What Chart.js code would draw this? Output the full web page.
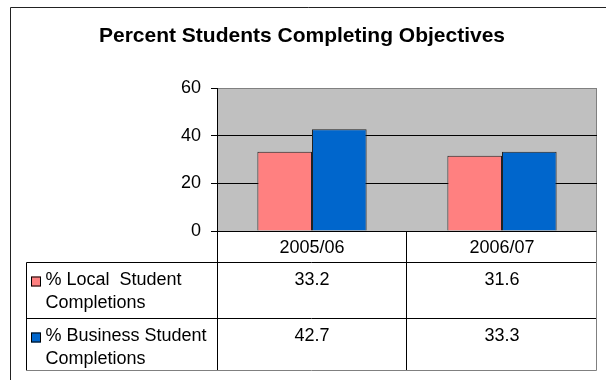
<!DOCTYPE html>
<html>
<head>
<meta charset="utf-8">
<title>Percent Students Completing Objectives</title>
<script src="https://cdn.jsdelivr.net/npm/chart.js@4/dist/chart.umd.min.js"></script>
<style>
  html, body { margin: 0; padding: 0; background: #ffffff; }
  #wrap { width: 606px; height: 380px; }
</style>
</head>
<body>
<div id="wrap">
  <canvas id="completionChart" width="606" height="380"></canvas>
</div>
<script>
// Chart data
const chartTitle = "Percent Students Completing Objectives";
const years = ["2005/06", "2006/07"];
const localCompletions = [33.2, 31.6];
const businessCompletions = [42.7, 33.3];
const seriesNames = [
  ["% Local  Student", "Completions"],
  ["% Business Student", "Completions"],
];
const yTicks = [0, 20, 40, 60];

const FONT = '"Liberation Sans", Arial, Helvetica, sans-serif';
const PINK = "#ff8080";
const BLUE = "#0066cc";

// Paint the white page, the outer frame and the grey plot area
const backgroundPlugin = {
  id: "background",
  beforeDraw(chart) {
    const ctx = chart.ctx;
    const area = chart.chartArea;
    ctx.save();
    ctx.fillStyle = "#ffffff";
    ctx.fillRect(0, 0, chart.width, chart.height);

    // outer frame, cut off at the right and bottom
    ctx.strokeStyle = "#222222";
    ctx.lineWidth = 1;
    ctx.beginPath();
    ctx.moveTo(10.5, chart.height);
    ctx.lineTo(10.5, 7.5);
    ctx.lineTo(chart.width, 7.5);
    ctx.stroke();

    ctx.fillStyle = "#c0c0c0";
    ctx.fillRect(area.left, area.top, area.right - area.left, area.bottom - area.top);

    // grey border on the right of the plot
    ctx.strokeStyle = "#808080";
    ctx.beginPath();
    ctx.moveTo(Math.round(area.right) - 0.5, area.top);
    ctx.lineTo(Math.round(area.right) - 0.5, area.bottom);
    ctx.stroke();
    ctx.restore();
  },
};

// Draw the data table under the plot, using the x scale for the columns
const dataTablePlugin = {
  id: "dataTable",
  afterDraw(chart) {
    const ctx = chart.ctx;
    const area = chart.chartArea;
    const xScale = chart.scales.x;
    const colWidth = (area.right - area.left) / years.length;
    const tableLeft = 26.5;
    const headerTop = Math.round(area.bottom) + 0.5;
    const headerBottom = headerTop + 31;
    const rowHeights = [56, 52];
    const rowTops = [headerBottom, headerBottom + rowHeights[0]];
    const tableBottom = rowTops[1] + rowHeights[1];
    const colEdges = [];
    for (let i = 0; i <= years.length; i++) {
      colEdges.push(Math.round(area.left + i * colWidth) - 0.5);
    }
    colEdges[0] = Math.round(area.left) + 0.5;

    ctx.save();
    ctx.lineWidth = 1;
    ctx.strokeStyle = "#000000";
    ctx.beginPath();
    // header column dividers
    colEdges.slice(0, -1).forEach((x) => {
      ctx.moveTo(x, headerTop);
      ctx.lineTo(x, tableBottom);
    });
    // row lines
    ctx.moveTo(tableLeft, headerBottom);
    ctx.lineTo(colEdges[colEdges.length - 1], headerBottom);
    ctx.moveTo(tableLeft, rowTops[1]);
    ctx.lineTo(colEdges[colEdges.length - 1], rowTops[1]);
    ctx.moveTo(tableLeft, headerBottom);
    ctx.lineTo(tableLeft, tableBottom);
    ctx.stroke();

    // outer right and bottom edges are grey
    ctx.strokeStyle = "#808080";
    ctx.beginPath();
    const right = colEdges[colEdges.length - 1];
    ctx.moveTo(right, headerTop);
    ctx.lineTo(right, tableBottom);
    ctx.moveTo(tableLeft, tableBottom);
    ctx.lineTo(right, tableBottom);
    ctx.stroke();

    ctx.font = "18px " + FONT;
    ctx.fillStyle = "#000000";
    ctx.textBaseline = "middle";

    // category labels in the header row
    ctx.textAlign = "center";
    years.forEach((year, i) => {
      ctx.fillText(year, xScale.getPixelForValue(i), (headerTop + headerBottom) / 2 + 1);
    });

    // series rows: legend key, name and values
    chart.data.datasets.forEach((dataset, r) => {
      const top = rowTops[r];
      ctx.fillStyle = dataset.backgroundColor;
      ctx.fillRect(31, top + 14, 10, 10);
      ctx.strokeStyle = "#000000";
      ctx.strokeRect(31.5, top + 14.5, 9, 9);

      ctx.fillStyle = "#000000";
      ctx.textAlign = "left";
      ctx.fillText(seriesNames[r][0], 45.5, top + 18);
      ctx.fillText(seriesNames[r][1], 45.5, top + 41);

      ctx.textAlign = "center";
      dataset.data.forEach((value, i) => {
        ctx.fillText(value.toFixed(1), xScale.getPixelForValue(i), top + 18);
      });
    });
    ctx.restore();
  },
};

const completionChart = new Chart(document.getElementById("completionChart"), {
  type: "bar",
  data: {
    labels: years,
    datasets: [
      {
        label: seriesNames[0].join(" "),
        data: localCompletions,
        backgroundColor: PINK,
        borderColor: "#222222",
        borderWidth: 1,
        categoryPercentage: 0.575,
        barPercentage: 1.0,
      },
      {
        label: seriesNames[1].join(" "),
        data: businessCompletions,
        backgroundColor: BLUE,
        borderColor: "#222222",
        borderWidth: 1,
        categoryPercentage: 0.575,
        barPercentage: 1.0,
      },
    ],
  },
  options: {
    responsive: false,
    animation: false,
    events: [],
    layout: {
      padding: { left: 7, right: 9, top: 0, bottom: 149 },
    },
    plugins: {
      legend: { display: false },
      tooltip: { enabled: false },
      title: {
        display: true,
        text: chartTitle,
        color: "#000000",
        font: { family: FONT, size: 21, weight: "bold", lineHeight: 1.2 },
        padding: { top: 24, bottom: 38.8 },
      },
    },
    scales: {
      x: {
        display: false,
      },
      y: {
        min: yTicks[0],
        max: yTicks[yTicks.length - 1],
        afterFit(scale) {
          scale.width = 210;
        },
        afterBuildTicks(scale) {
          scale.ticks = yTicks.map((v) => ({ value: v }));
        },
        border: { display: true, color: "#000000", width: 1 },
        grid: {
          color: (ctx) => (ctx.tick && ctx.tick.value === 60 ? "#808080" : "#000000"),
          tickColor: "#000000",
          tickLength: 6,
          lineWidth: 1,
        },
        ticks: {
          color: "#000000",
          padding: 10,
          font: { family: FONT, size: 18 },
        },
      },
    },
  },
  plugins: [backgroundPlugin, dataTablePlugin],
});
</script>
</body>
</html>
